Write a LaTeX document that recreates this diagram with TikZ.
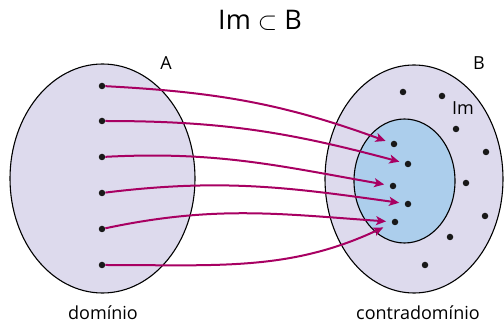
\documentclass[tikz,border=0pt]{standalone}
\usepackage{fontspec}
\setmainfont{Open Sans}
\usepackage{tikz}
\usetikzlibrary{arrows.meta,positioning,shapes.geometric}
\definecolor{setfill}{RGB}{221,218,237}
\definecolor{imfill}{RGB}{172,206,236}
\definecolor{mapcol}{RGB}{168,0,98}
\tikzset{
  conj/.style={ellipse,draw=black,line width=1.1pt,fill=setfill,inner sep=0pt},
  imset/.style={conj,fill=imfill},
  elem/.style={circle,fill=black!90,inner sep=0pt,minimum size=6.5pt},
  maps/.style={-{Stealth[length=10pt,width=9pt,inset=2.5pt]},draw=mapcol,
               line width=2pt,shorten >=5.5pt},
  lbl/.style={font=\fontsize{18}{21}\selectfont,inner sep=0pt},
}
\begin{document}
\begin{tikzpicture}[x=1pt,y=1pt]
  \useasboundingbox (0,0) rectangle (504,324);
  \node[conj,minimum width=185pt,minimum height=229pt] (A) at (102.5,145.5) {};
  \node[conj,minimum width=178pt,minimum height=228pt] (B) at (414,145) {};
  \node[imset,minimum width=101pt,minimum height=124pt] (Im) at (404.5,143) {};
  \foreach \i/\y in {1/238,2/203,3/167,4/131,5/95,6/59}{\node[elem] (a\i) at (102,\y) {};}
  \foreach \i/\p in {1/{394,180},2/{408,160},3/{393,138},4/{408,120},5/{395,102}}{
    \node[elem] (m\i) at (\p) {};}
  \foreach \i/\p in {1/{403,232},2/{442,228},3/{456,195},4/{486,172},5/{466,141},
    6/{485,108},7/{450,87},8/{425,59}}{\node[elem] (b\i) at (\p) {};}
  \draw[maps] (a1) to[out=-3,in=160] (m1);
  \draw[maps] (a2) to[out=0,in=165] (m2);
  \draw[maps] (a3) to[out=3,in=170] (m3);
  \draw[maps] (a4) to[out=7,in=172] (m4);
  \draw[maps] (a5) to[out=12,in=176] (m5);
  \draw[maps,shorten >=9.5pt] (a6) to[out=0,in=205] (m5);
  \node[font=\fontsize{27}{32}\selectfont,anchor=base,inner sep=0pt] (tit) at (260,294)
    {Im $\subset$ B};
  \node[lbl,anchor=base] (labA) at (166,254) {A};
  \node[lbl,anchor=base] (labB) at (479,254) {B};
  \node[lbl,anchor=base] (labIm) at (463,209) {Im};
  \node[lbl,anchor=base] (dom) at (103,4) {domínio};
  \node[lbl,anchor=base] (cdom) at (418,4) {contradomínio};
\end{tikzpicture}
\end{document}
